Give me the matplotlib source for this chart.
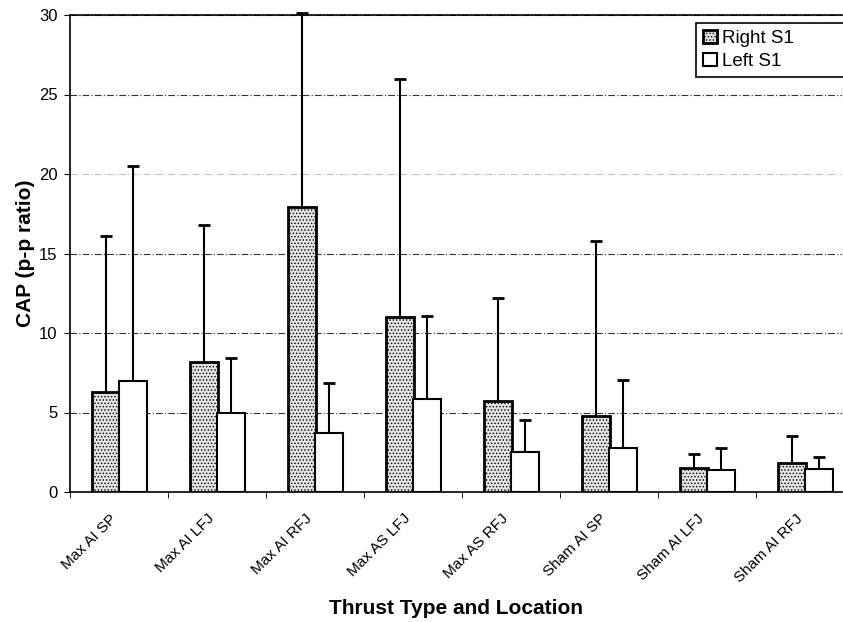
import numpy as np
import matplotlib
matplotlib.use('Agg')
from matplotlib import pyplot as plt

# values
categories = ['Max AI SP', 'Max AI LFJ', 'Max AI RFJ', 'Max AS LFJ',
              'Max AS RFJ', 'Sham AI SP', 'Sham AI LFJ', 'Sham AI RFJ']
rightMean = [6.3, 8.2, 17.9, 11.0, 5.7, 4.8, 1.5, 1.8]
rightTop = [16.1, 16.8, 30.1, 26.0, 12.2, 15.8, 2.4, 3.5]
leftMean = [7.0, 5.0, 3.7, 5.85, 2.5, 2.75, 1.4, 1.45]
leftTop = [20.5, 8.45, 6.85, 11.1, 4.5, 7.05, 2.75, 2.2]

rightErr = np.array(rightTop) - np.array(rightMean)
leftErr = np.array(leftTop) - np.array(leftMean)

plt.rc('font', family=['Liberation Sans', 'DejaVu Sans'])
plt.rc('hatch', color='#444444', linewidth=0.6)

fig = plt.figure(figsize=(8.43, 6.22), dpi=100)
ax = fig.add_axes([70/843, 1-492/622, 772/843, 477/622])

x = np.arange(len(categories))
bw = 0.286
xr = x - 0.136
xl = x + 0.143

ax.bar(xr, rightMean, width=bw, facecolor='#e2e2e2', edgecolor='black',
       linewidth=2, hatch='.....', zorder=3, label='Right S1')
ax.bar(xl, leftMean, width=bw, facecolor='white', edgecolor='black',
       linewidth=1.5, zorder=3, label='Left S1')

# upper error bars only
for xs, m, e in [(xr, rightMean, rightErr), (xl, leftMean, leftErr)]:
    ax.vlines(xs, m, np.array(m) + e, color='black', lw=1.5, zorder=2, clip_on=False)
    ax.plot(xs, np.array(m) + e, ls='none', marker='_', ms=9, mew=2,
            color='black', zorder=2, clip_on=False)

ax.set_ylim(0, 30)
ax.set_xlim(-0.5, -0.5 + 772/98)
ax.set_yticks(np.arange(0, 31, 5))
# labels sit a little left of the group centre in the original
ax.set_xticks(x - 0.1)
ax.set_xticklabels(categories, rotation=45, ha='right', va='top',
                   rotation_mode='anchor', fontsize=11)
ax.set_xticks(np.arange(0, 8) - 0.5, minor=True)
ax.tick_params(axis='x', which='major', length=0, pad=14)
ax.tick_params(axis='x', which='minor', length=4, direction='out')
ax.tick_params(axis='y', labelsize=12, length=4, direction='out', pad=5)

ax.yaxis.grid(True, color='#333333', lw=0.8, ls=(0, (6, 2, 1, 2)), zorder=0)
ax.get_ygridlines()[4].set_alpha(0.3)
for s in ax.spines.values():
    s.set_linewidth(1.2)
ax.spines['right'].set_visible(False)

ax.set_ylabel('CAP (p-p ratio)', fontsize=15, fontweight='bold', labelpad=3)
ax.set_xlabel('Thrust Type and Location', fontsize=15, fontweight='bold', labelpad=10)

leg = ax.legend(loc='upper left', bbox_to_anchor=(0.811, 0.875, 0.25, 0.108),
                mode='expand', fontsize=13.5,
                fancybox=False, edgecolor='black', framealpha=1,
                handlelength=0.75, handleheight=0.75, handletextpad=0.3,
                borderpad=0.35, labelspacing=0.3, borderaxespad=0)
leg.get_frame().set_linewidth(1.2)

fig.savefig('out.png', dpi=100)
